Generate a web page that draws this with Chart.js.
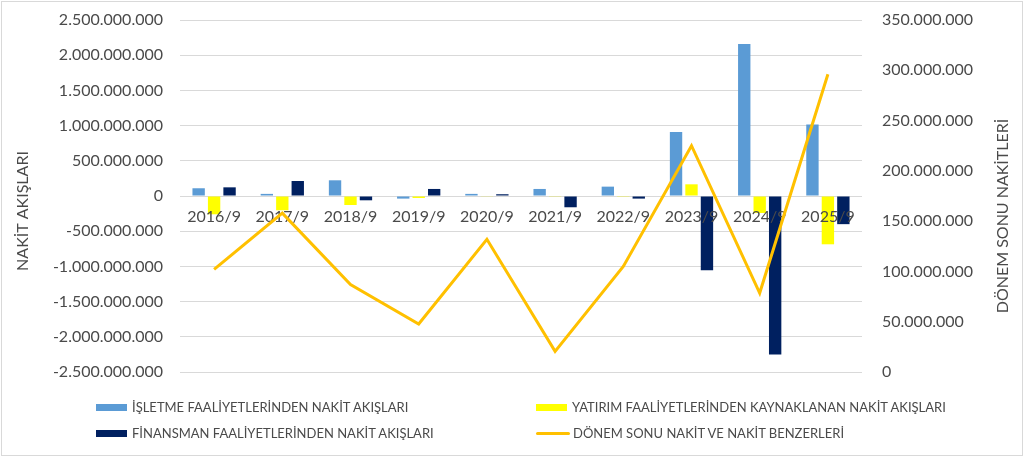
<!DOCTYPE html>
<html lang="tr">
<head>
<meta charset="utf-8">
<script src="https://cdn.jsdelivr.net/npm/chart.js@4.4.1/dist/chart.umd.min.js"></script>
<style>
    html, body { margin: 0; padding: 0; background: #fff; }
    #wrap { position: relative; width: 1024px; height: 457px; font-family: Lato, sans-serif; }
    #frame { position: absolute; left: 1px; top: 1px; right: 1px; bottom: 1px; border: 1px solid #d9d9d9; pointer-events: none; }
    .item { position: absolute; height: 16px; display: flex; align-items: center; font-size: 13px; color: #4a4a4a; white-space: nowrap; }
    .box { width: 31px; height: 7px; margin-right: 5px; }
    .ln { width: 34px; height: 3px; border-radius: 2px; margin-right: 3px; }
</style>
</head>
<body>
<div id="wrap">
    <canvas id="myChart"></canvas>
    <div id="legend"></div>
    <div id="frame"></div>
</div>
<script>
"use strict";

// Categories (periods)
const categories = ['2016/9', '2017/9', '2018/9', '2019/9', '2020/9', '2021/9', '2022/9', '2023/9', '2024/9', '2025/9'];

// Cash flow series (left axis)
const operating = [110000000, 30000000, 223000000, -37000000, 30000000, 100000000, 133000000, 909000000, 2159000000, 1014000000];
const investing = [-260000000, -203000000, -128000000, -28000000, -5000000, -10000000, -3000000, 166000000, -241000000, -686000000];
const financing = [123000000, 213000000, -61000000, 100000000, 25000000, -160000000, -37000000, -1055000000, -2253000000, -400000000];

// End of period cash (right axis)
const endCash = [102000000, 158000000, 87000000, 47700000, 132000000, 20500000, 105000000, 225000000, 78500000, 296000000];

// Axis tick settings
const leftTicks = { min: -2500000000, max: 2500000000, step: 500000000 };
const rightTicks = { min: 0, max: 350000000, step: 50000000 };

const textColor = '#4a4a4a';
const gridColor = '#d9d9d9';
const leftTitle = 'NAKİT AKIŞLARI';
const rightTitle = 'DÖNEM SONU NAKİTLERİ';

// Numbers with dots as thousands separator
function formatNumber(v) {
    const s = String(Math.abs(Math.round(v))).replace(/\B(?=(\d{3})+(?!\d))/g, '.');
    return v < 0 ? '-' + s : s;
}

// Fixed axis width, and no extra room above / below the plot
function fixAxis(width) {
    return function (s) {
        s.width = width;
        s.paddingTop = 0;
        s.paddingBottom = 0;
    };
}

// Category labels are drawn after the bars but before the line
const xLabelsPlugin = {
    id: 'xLabels',
    afterDatasetDraw(chart, args) {
        if (args.index !== 0) return;
        const ctx = chart.ctx;
        const xScale = chart.scales.x;
        const y0 = chart.scales.y.getPixelForValue(0);
        ctx.save();
        ctx.font = '16px Lato';
        ctx.fillStyle = textColor;
        ctx.textAlign = 'center';
        ctx.textBaseline = 'middle';
        categories.forEach(function (c, i) {
            ctx.fillText(c, xScale.getPixelForValue(i), y0 + 21);
        });
        ctx.restore();
    }
};

// Both axis titles, read from bottom to top
function drawVerticalText(ctx, text, x, y) {
    ctx.save();
    ctx.translate(x, y);
    ctx.rotate(-Math.PI / 2);
    ctx.font = '16px Lato';
    ctx.fillStyle = textColor;
    ctx.textAlign = 'center';
    ctx.textBaseline = 'middle';
    ctx.fillText(text, 0, 0);
    ctx.restore();
}

const axisTitlesPlugin = {
    id: 'axisTitles',
    afterDraw(chart) {
        const area = chart.chartArea;
        const mid = (area.top + area.bottom) / 2;
        drawVerticalText(chart.ctx, leftTitle, chart.scales.y.left + 23, mid + 15);
        drawVerticalText(chart.ctx, rightTitle, chart.scales.y1.right - 21, mid + 20);
    }
};

const datasets = [
    { label: 'İŞLETME FAALİYETLERİNDEN NAKİT AKIŞLARI', data: operating, backgroundColor: '#5b9bd5', order: 1 },
    { label: 'YATIRIM FAALİYETLERİNDEN KAYNAKLANAN NAKİT AKIŞLARI', data: investing, backgroundColor: '#ffff00', order: 1 },
    { label: 'FİNANSMAN FAALİYETLERİNDEN NAKİT AKIŞLARI', data: financing, backgroundColor: '#002060', order: 1 },
    {
        type: 'line', label: 'DÖNEM SONU NAKİT VE NAKİT BENZERLERİ', data: endCash, yAxisID: 'y1',
        borderColor: '#ffc000', backgroundColor: '#ffc000', borderWidth: 3, pointRadius: 0, tension: 0, order: 0
    }
];

datasets.forEach(function (d) {
    if (!d.type) {
        d.categoryPercentage = 0.68;
        d.barPercentage = 0.8;
    }
});

const chart = new Chart(document.getElementById('myChart'), {
    type: 'bar',
    data: { labels: categories, datasets: datasets },
    plugins: [xLabelsPlugin, axisTitlesPlugin],
    options: {
        responsive: true,
        maintainAspectRatio: false,
        animation: false,
        layout: { padding: { left: 0, right: 0, top: 20, bottom: 85 } },
        plugins: { legend: { display: false }, tooltip: { enabled: false } },
        scales: {
            x: { display: false },
            y: {
                position: 'left',
                min: leftTicks.min, max: leftTicks.max,
                afterFit: fixAxis(180),
                grid: { color: gridColor, drawTicks: false },
                border: { display: false },
                ticks: {
                    stepSize: leftTicks.step, padding: 17, color: textColor,
                    font: { family: 'Lato', size: 16 },
                    callback: function (v) { return formatNumber(v); }
                }
            },
            y1: {
                position: 'right',
                min: rightTicks.min, max: rightTicks.max,
                afterFit: fixAxis(162),
                grid: { display: false, drawTicks: false },
                border: { display: false },
                ticks: {
                    stepSize: rightTicks.step, padding: 20, color: textColor,
                    font: { family: 'Lato', size: 16 },
                    callback: function (v) { return formatNumber(v); }
                }
            }
        }
    }
});

// Legend in two columns
const legendPos = [
    { left: 96, top: 399 },
    { left: 536, top: 399 },
    { left: 96, top: 425 },
    { left: 536, top: 425 }
];
const legendEl = document.getElementById('legend');
[0, 1, 2, 3].forEach(function (i) {
    const d = datasets[i];
    const item = document.createElement('div');
    item.className = 'item';
    item.style.left = legendPos[i].left + 'px';
    item.style.top = legendPos[i].top + 'px';
    const sw = document.createElement('span');
    sw.className = d.type === 'line' ? 'ln' : 'box';
    sw.style.background = d.backgroundColor;
    item.appendChild(sw);
    item.appendChild(document.createTextNode(d.label));
    legendEl.appendChild(item);
});
</script>
</body>
</html>
